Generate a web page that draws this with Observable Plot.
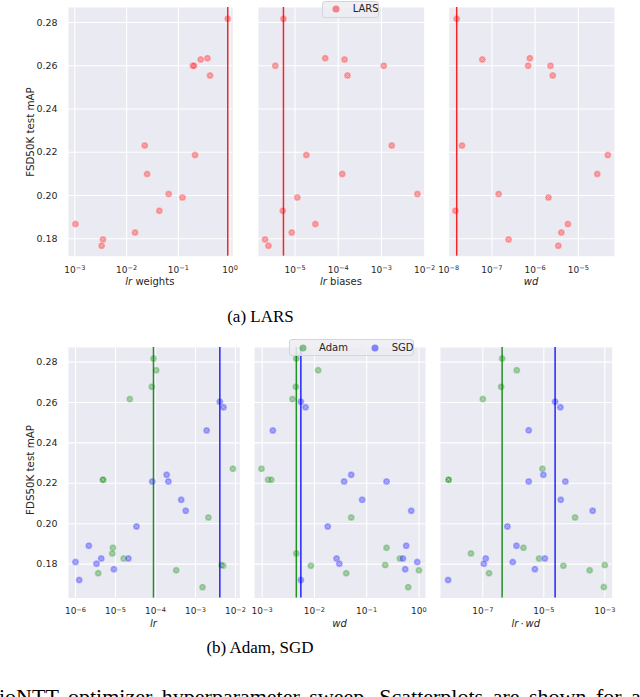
<!DOCTYPE html>
<html>
<head>
<meta charset="utf-8">
<script src="https://cdn.jsdelivr.net/npm/d3@7"></script>
<script src="https://cdn.jsdelivr.net/npm/@observablehq/plot@0.6"></script>
<style>
  html, body { margin: 0; padding: 0; background: #fff; width: 640px; height: 697px; overflow: hidden; }
  #root { position: relative; width: 640px; height: 697px; font-family: "DejaVu Sans", sans-serif; color: #262626; }
  #root svg { position: absolute; overflow: visible; }
  .xl { position: absolute; font-size: 10px; line-height: 10px; transform: translate(-50%, -50%); white-space: nowrap; }
  .yl { position: absolute; font-size: 10.3px; line-height: 10px; transform: translate(-50%, -50%) rotate(-90deg); white-space: nowrap; }
  .cap { position: absolute; font-family: "Liberation Serif", "Times New Roman", serif; font-size: 17px; line-height: 17px; transform: translateX(-50%); white-space: nowrap; color: #000; }
  .body { position: absolute; font-family: "Liberation Serif", "Times New Roman", serif; font-size: 22px; line-height: 22px; white-space: nowrap; color: #000; word-spacing: 4px; }
  .legend { position: absolute; background: rgba(236,236,242,0.85); border: 1px solid #d4d4da; border-radius: 3px; box-sizing: border-box; font-size: 10px; }
  .legend .sw { position: absolute; width: 7px; height: 7px; border-radius: 50%; transform: translate(-50%, -50%); }
  .legend .lt { position: absolute; line-height: 10px; transform: translateY(-50%); white-space: nowrap; }
</style>
</head>
<body>
<div id="root"></div>
<script>
// ---------------- data ----------------
// (a) LARS sweep: one entry per run
const larsMAP     = [0.2817, 0.2600, 0.2600, 0.2629, 0.2635, 0.2555, 0.2231, 0.2187, 0.2100, 0.2007, 0.1991, 0.1930, 0.1868, 0.1829, 0.1797, 0.1768];
const larsLrW     = [0.9, 0.19, 0.2, 0.27, 0.365, 0.41, 0.0224, 0.21, 0.0249, 0.065, 0.12, 0.043, 0.00103, 0.0146, 0.0035, 0.0033];
const larsLrB     = [5.4e-6, 3.5e-6, 1.13e-3, 1.4e-4, 5.0e-5, 1.64e-4, 1.73e-3, 1.83e-5, 1.24e-4, 6.8e-3, 1.13e-5, 5.2e-6, 2.96e-5, 8.4e-6, 2.03e-6, 2.43e-6];
const larsWd      = [1.53e-8, 6.9e-7, 2.27e-6, 6.0e-8, 7.55e-7, 2.56e-6, 2.03e-8, 4.83e-5, 2.75e-5, 1.43e-7, 2.04e-6, 1.43e-8, 5.75e-6, 4.05e-6, 2.43e-7, 3.45e-6];

// (b) Adam sweep
const adamMAP     = [0.2818, 0.2760, 0.2678, 0.2617, 0.2218, 0.2218, 0.2272, 0.2031, 0.1881, 0.1853, 0.1828, 0.1792, 0.1795, 0.1755, 0.1769, 0.1686];
const adamLr      = [8.9e-5, 1.04e-4, 8.1e-5, 2.28e-5, 4.8e-6, 4.9e-6, 8.6e-3, 2.1e-3, 8.6e-6, 8.3e-6, 1.6e-5, 4.9e-3, 4.5e-3, 3.7e-6, 3.3e-4, 1.5e-3];
const adamWd      = [4.5e-3, 0.0118, 4.4e-3, 3.8e-3, 1.3e-3, 1.49e-3, 9.7e-4, 0.0506, 0.24, 4.5e-3, 0.432, 8.55e-3, 0.226, 0.0406, 1.0, 0.624];
const adamLrWd    = [4.3e-7, 1.3e-6, 4.0e-7, 1.0e-7, 7.5e-9, 7.6e-9, 9.0e-6, 1.06e-4, 2.15e-6, 4.1e-8, 7.0e-6, 4.4e-5, 1.0e-3, 1.6e-7, 3.2e-4, 9.3e-4];

// (b) SGD sweep
const sgdMAP      = [0.2604, 0.2576, 0.2462, 0.2242, 0.2209, 0.2209, 0.2118, 0.2064, 0.1986, 0.1891, 0.1828, 0.1828, 0.1802, 0.1810, 0.1775, 0.1721];
const sgdLr       = [4.06e-3, 5.0e-3, 1.9e-3, 1.9e-4, 2.1e-4, 8.3e-5, 4.4e-4, 5.7e-4, 3.35e-5, 2.15e-6, 4.4e-6, 2.1e-5, 3.35e-6, 1.0e-6, 9.1e-6, 1.24e-6];
const sgdWd       = [5.5e-3, 6.76e-3, 1.6e-3, 0.0506, 0.24, 0.037, 0.082, 0.713, 0.018, 0.571, 0.0265, 0.493, 0.030, 0.93, 0.547, 5.5e-3];
const sgdLrWd     = [2.35e-5, 3.5e-5, 3.2e-6, 9.7e-6, 5.1e-5, 3.2e-6, 3.6e-5, 4.0e-4, 6.4e-7, 1.27e-6, 1.25e-7, 1.08e-5, 1.08e-7, 9.6e-7, 5.1e-6, 7.3e-9];

// tick values
const yTicks          = [0.18, 0.20, 0.22, 0.24, 0.26, 0.28];
const ticksLrWeights  = [1e-3, 1e-2, 1e-1, 1];
const ticksLrBiases   = [1e-5, 1e-4, 1e-3, 1e-2];
const ticksLarsWd     = [1e-8, 1e-7, 1e-6, 1e-5];
const ticksLr         = [1e-6, 1e-5, 1e-4, 1e-3, 1e-2];
const ticksWd         = [1e-3, 1e-2, 1e-1, 1];
const ticksLrWd       = [1e-7, 1e-5, 1e-3];

// labels
const larsLabels   = ["<i>lr</i> weights", "<i>lr</i> biases", "<i>wd</i>"];
const optLabels    = ["<i>lr</i>", "<i>wd</i>", "<i>lr</i>\u2009·\u2009<i>wd</i>"];
const yLabelTop    = "FSD50K test mAP";
const yLabelBottom = "FDS50K test mAP";
const captionA     = "(a) LARS";
const captionB     = "(b) Adam, SGD";
const bodyText     = "ioNTT optimizer hyperparameter sweep. Scatterplots are shown for all thr";

// ---------------- helpers ----------------
const root = document.getElementById("root");
const supMap = {"-": "\u207B", "0": "\u2070", "1": "\u00B9", "2": "\u00B2", "3": "\u00B3", "4": "\u2074", "5": "\u2075", "6": "\u2076", "7": "\u2077", "8": "\u2078", "9": "\u2079"};
const unSup = Object.fromEntries(Object.entries(supMap).map(([k, v]) => [v, k === "-" ? "\u2212" : k]));
const sup = d => "10" + String(Math.round(Math.log10(d))).replace(/./g, c => supMap[c]);

const rows = (ys, xs) => ys.map((y, i) => ({x: xs[i], y}));

const COLORS = {lars: "#ff0000", adam: "#008000", sgd: "#0000ff"};

// turn "10⁻³" tick labels into "10" + raised tspan, like matplotlib mathtext
function raiseExponents(svg) {
  svg.querySelectorAll('g[aria-label="x-axis tick label"] text').forEach(t => {
    const s = t.textContent;
    if (!s.startsWith("10")) return;
    const exp = Array.from(s.slice(2)).map(c => unSup[c] ?? c).join("");
    t.textContent = "10";
    const ts = document.createElementNS("http://www.w3.org/2000/svg", "tspan");
    ts.setAttribute("dy", "-0.42em");
    ts.setAttribute("font-size", "6.6px");
    ts.textContent = exp;
    t.appendChild(ts);
  });
}

function panel({fx0, fx1, fy0, fy1, xDomain, xTicks, yDomain, series, yAxis}) {
  const ml = yAxis ? 70 : 6, mr = 16, mt = 7, mb = 30;
  const marks = [
    Plot.frame({fill: "#EAEAF2", stroke: null}),
    Plot.gridX(xTicks, {stroke: "#fff", strokeOpacity: 1, strokeWidth: 1.1}),
    Plot.gridY(yTicks, {stroke: "#fff", strokeOpacity: 1, strokeWidth: 1.1}),
    Plot.axisX(xTicks, {tickSize: 0, tickPadding: 10, tickFormat: sup, fontSize: 9, label: null})
  ];
  if (yAxis) marks.push(Plot.axisY(yTicks, {tickSize: 0, tickPadding: 11, tickFormat: d3.format(".2f"), fontSize: 9.5, label: null}));
  for (const s of series) {
    marks.push(Plot.dot(s.data, {x: "x", y: "y", r: 3.5, fill: s.color, fillOpacity: 0.4, stroke: "#fff", strokeOpacity: 0.45, strokeWidth: 0.8}));
    marks.push(Plot.dot(s.data, {x: "x", y: "y", r: 1.5, symbol: "times", stroke: "#fff", strokeOpacity: 0.4, strokeWidth: 0.7}));
  }
  for (const s of series) {
    const best = s.data[d3.maxIndex(s.data, d => d.y)];
    marks.push(Plot.ruleX([best.x], {stroke: s.color, strokeWidth: 1.5, strokeOpacity: 0.85}));
  }
  const svg = Plot.plot({
    width: (fx1 - fx0) + ml + mr,
    height: (fy1 - fy0) + mt + mb,
    marginLeft: ml, marginRight: mr, marginTop: mt, marginBottom: mb,
    x: {type: "log", domain: xDomain},
    y: {domain: yDomain, axis: yAxis ? undefined : null},
    style: {background: "transparent", color: "#262626", fontFamily: "DejaVu Sans", fontSize: "9px", overflow: "visible"},
    marks
  });
  raiseExponents(svg);
  svg.style.left = (fx0 - ml) + "px";
  svg.style.top = (fy0 - mt) + "px";
  root.appendChild(svg);
}

function html(cls, text, styles) {
  const d = document.createElement("div");
  d.className = cls;
  d.innerHTML = text;
  Object.assign(d.style, styles);
  root.appendChild(d);
  return d;
}

// ---------------- top row: LARS ----------------
const yTop = [0.17196, 0.28694];
const topFrames = [[67.7, 232], [257.7, 424.3], [448, 614]];
const larsX = [larsLrW, larsLrB, larsWd];
const larsDom = [[Math.pow(10, -3.122), Math.pow(10, 0.052)], [Math.pow(10, -5.845), Math.pow(10, -1.99)], [Math.pow(10, -8.005), Math.pow(10, -4.162)]];
const larsTicks = [ticksLrWeights, ticksLrBiases, ticksLarsWd];
topFrames.forEach(([a, b], i) => {
  panel({fx0: a, fx1: b, fy0: 7, fy1: 255.7, xDomain: larsDom[i], xTicks: larsTicks[i], yDomain: yTop,
    series: [{data: rows(larsMAP, larsX[i]), color: COLORS.lars}], yAxis: i === 0});
  html("xl", larsLabels[i], {left: ((a + b) / 2) + "px", top: "282px"});
});
html("yl", yLabelTop, {left: "30px", top: "131.5px"});

// ---------------- bottom row: Adam, SGD ----------------
const yBot = [0.16317, 0.28723];
const botFrames = [[67.7, 239], [254, 425], [440, 611.7]];
const adamX = [adamLr, adamWd, adamLrWd];
const sgdX = [sgdLr, sgdWd, sgdLrWd];
const optDom = [[Math.pow(10, -6.175), Math.pow(10, -1.8925)], [Math.pow(10, -3.147), Math.pow(10, 0.126)], [Math.pow(10, -8.387), Math.pow(10, -2.757)]];
const optTicks = [ticksLr, ticksWd, ticksLrWd];
botFrames.forEach(([a, b], i) => {
  panel({fx0: a, fx1: b, fy0: 346.7, fy1: 597.3, xDomain: optDom[i], xTicks: optTicks[i], yDomain: yBot,
    series: [{data: rows(adamMAP, adamX[i]), color: COLORS.adam}, {data: rows(sgdMAP, sgdX[i]), color: COLORS.sgd}], yAxis: i === 0});
  html("xl", optLabels[i], {left: ((a + b) / 2) + "px", top: "623.5px"});
});
html("yl", yLabelBottom, {left: "30px", top: "470px"});

// ---------------- legends ----------------
function legend(box, items) {
  const d = html("legend", "", {left: box[0] + "px", top: box[1] + "px", width: box[2] + "px", height: box[3] + "px"});
  for (const it of items) {
    const sw = document.createElement("div");
    sw.className = "sw";
    Object.assign(sw.style, {left: it.sx + "px", top: (box[3] / 2 - 1) + "px", background: it.color, opacity: 0.45});
    d.appendChild(sw);
    const t = document.createElement("div");
    t.className = "lt";
    t.textContent = it.label;
    Object.assign(t.style, {left: it.tx + "px", top: (box[3] / 2 - 1) + "px"});
    d.appendChild(t);
  }
}
legend([321.7, 0.5, 57.5, 17], [{label: "LARS", color: COLORS.lars, sx: 13.3, tx: 30}]);
legend([288.7, 339.3, 125.6, 17], [{label: "Adam", color: COLORS.adam, sx: 13, tx: 29.3}, {label: "SGD", color: COLORS.sgd, sx: 85.3, tx: 102}]);

// ---------------- captions ----------------
html("cap", captionA, {left: "260.5px", top: "307.5px"});
html("cap", captionB, {left: "260px", top: "639.2px"});
html("body", bodyText, {left: "-1px", top: "685.5px"});
</script>
</body>
</html>
